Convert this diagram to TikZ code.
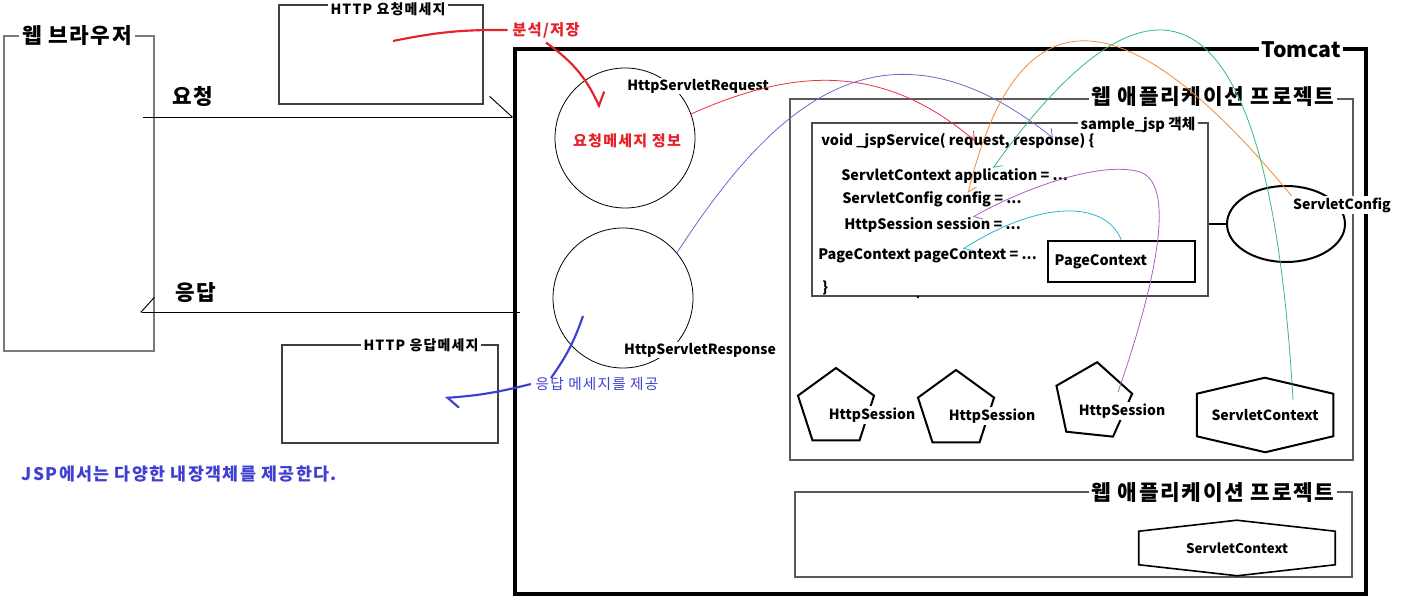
\documentclass[tikz,border=0pt]{standalone}
\usepackage{fontspec}
\setmainfont{Noto Sans CJK KR}
\newfontfamily\kr{Noto Sans CJK KR}[LetterSpace=8]
\usetikzlibrary{arrows.meta,positioning,shapes.geometric,fit}
\definecolor{lnGray}{HTML}{7A7A7A}
\definecolor{penRed}{HTML}{E8202A}
\definecolor{penBlue}{HTML}{3F3FD2}
\definecolor{cvRed}{HTML}{F0303C}
\definecolor{cvBlue}{HTML}{6A6AC8}
\definecolor{cvOrange}{HTML}{F08A3C}
\definecolor{cvGreen}{HTML}{3CB878}
\definecolor{cvPurple}{HTML}{A860C0}
\definecolor{cvCyan}{HTML}{28B4CC}
\newcommand{\fs}[1]{\fontsize{#1}{#1}\selectfont}

\begin{document}
\begin{tikzpicture}[
  x=0.75pt, y=-0.75pt,
  frame/.style={draw=#1, line width=0.8pt, inner sep=0pt},
  frame/.default=lnGray,
  ttl/.style={fill=white, font=\kr\bfseries\fs{16}, inner sep=2pt},
  sttl/.style={fill=white, font=\kr\bfseries\fs{10.5}, inner sep=2pt},
  lbl/.style={fill=white, font=\bfseries\fs{10.5}, inner sep=1pt},
  code/.style={anchor=west, font=\bfseries\fs{10.8}, inner sep=0pt},
  shp/.style={draw, line width=1.5pt},
  wire/.style={line width=0.7pt},
  crv/.style={draw=#1, line width=0.6pt, -{Straight Barb[harpoon,length=5pt,width=10pt]}},
  pen/.style={draw=#1, line width=1.6pt, -{Straight Barb[harpoon,length=8pt,width=16pt]}},
]
\useasboundingbox (0,0) rectangle (1402,605);

% browser side
\node[frame, fit={(4,36)(154,351)}] (brw) {};
\node[ttl] (brwT) at (77,36) {웹 브라우저};
\node[font=\kr\bfseries\fs{16}] (reqL) at (193,97) {요청};
\node[font=\kr\bfseries\fs{16}] (resL) at (196,293) {응답};

\node[frame=black!75, fit={(279,5)(483,104)}] (reqBox) {};
\node[sttl, inner ysep=1pt] (reqBoxT) at (388,9) {HTTP 요청메세지};
\node[frame=black!75, fit={(282,345)(498,443)}] (resBox) {};
\node[sttl] (resBoxT) at (421,345) {HTTP 응답메세지};

% Tomcat
\node[frame=black, line width=2.4pt, fit={(515,49)(1366,594)}] (tom) {};
\node[ttl, font=\bfseries\fs{16}] (tomT) at (1301,50) {Tomcat};

\coordinate (reqS) at (143,117);
\draw[wire, -{Straight Barb[harpoon,length=17pt,width=31pt]}] (reqS) -- (reqS -| tom.west);
\coordinate (resS) at (520,312);
\coordinate (resE) at (140,312);
\draw[wire, -{Straight Barb[harpoon,swap,length=10pt,width=22pt]}] (resS) -- (resE);

\node[circle, draw, line width=0.6pt, minimum size=105pt] (reqC) at (625,138) {};
\node[circle, draw, line width=0.6pt, minimum size=105pt] (resC) at (623,298) {};
\node[lbl] (reqCL) at (698,86) {HttpServletRequest};
\node[lbl] (resCL) at (700,350) {HttpServletResponse};
\node[text=penRed, font=\kr\bfseries\fs{11.3}] (reqInfo) at (627,141) {요청메세지 정보};

% hand notes
\node[text=penRed, font=\kr\bfseries\fs{11.5}] (anl) at (546,30) {분석/저장};
\coordinate (anlS) at (393,41);
\coordinate (anlT) at (600,108);
\draw[penRed, line width=1.6pt] (anlS) to[bend left=6] (anl.west);
\draw[pen=penRed] (anl.south) to[bend left=15] (anlT);

\node[text=penBlue, font=\kr\fs{11}] (msg) at (597,384) {응답 메세지를 제공};
\coordinate (msgT) at (445,398);
\draw[penBlue, line width=1.6pt] (583,316) to[bend left=8] (551,378);
\draw[pen=penBlue] (msg.west) to[bend left=5] (msgT);

\node[text=penBlue, font=\kr\bfseries\fs{13}, anchor=west] (note) at (17,474) {JSP에서는 다양한 내장객체를 제공한다.};

% web application project
\node[frame=black!65, fit={(790,99)(1353,460)}] (prj) {};
\node[ttl] (prjT) at (1213,97) {웹 애플리케이션 프로젝트};
\node[frame=black!70, fit={(812,123)(1208,296)}] (jsp) {};
\node[sttl, font=\bfseries\fs{11}] (jspT) at (1138,125) {sample\_jsp 객체};

\node[code] (c0) at (821,141) {void \_jspService( request, response) \{};
\node[code] (c1) at (841,176) {ServletContext application = ...};
\node[code] (c2) at (842,199) {ServletConfig config = ...};
\node[code] (c3) at (844,225) {HttpSession session = ...};
\node[code] (c4) at (818,256) {PageContext pageContext = ...};
\node[code] (c5) at (822,288) {\}};
\fill (918,297) circle (1pt);

\node[shp, anchor=north west, minimum width=110pt, minimum height=30.75pt, inner xsep=5pt,
  text width=100pt, align=left, font=\bfseries\fs{10.8}] (pc) at (1047,240) {PageContext};

\node[ellipse, shp, minimum width=88.5pt, minimum height=57pt] (cfgE) at (1286,224) {};
\draw[line width=1.5pt] (cfgE.west) -- (cfgE.west -| jsp.east);

\node[regular polygon, regular polygon sides=5, shp, minimum size=60pt] (hs1) at (836,408) {};
\node[regular polygon, regular polygon sides=5, shp, minimum size=60pt] (hs2) at (956,410) {};
\node[regular polygon, regular polygon sides=5, shp, minimum size=60pt, rotate=-6] (hs3) at (1093,402) {};
\node[lbl] (hs1L) at (872,415) {HttpSession};
\node[lbl] (hs2L) at (992,416) {HttpSession};
\node[lbl] (hs3L) at (1122,411) {HttpSession};

\node[minimum width=102pt, minimum height=31.5pt, font=\bfseries\fs{10.5}] (sc) at (1265,415) {ServletContext};
\draw[shp] (sc.north west) -- ++(68,-16) -- (sc.north east) -- (sc.south east) -- ++(-68,16) -- (sc.south west) -- cycle;

\node[frame=black!65, fit={(795,492)(1352,577)}] (prj2) {};
\node[ttl] (prj2T) at (1213,493) {웹 애플리케이션 프로젝트};
\node[minimum width=147pt, minimum height=24.75pt, font=\bfseries\fs{10}] (sc2) at (1237,548) {ServletContext};
\draw[line width=1.2pt] (sc2.north west) -- ++(98,-11) -- (sc2.north east) -- (sc2.south east) -- ++(-98,11) -- (sc2.south west) -- cycle;

\node[lbl] (cfgL) at (1342,205) {ServletConfig};

% object links
\coordinate (wReq) at (975,141);
\coordinate (wResp) at (1053,138);
\coordinate (wApp) at (993,168);
\coordinate (wCfg) at (968,193);
\coordinate (wSes) at (973,217);
\coordinate (wPc) at (963,249);
\coordinate (gS) at (1293,400);
\coordinate (pS) at (1118,392);
\draw[crv=cvRed] (reqC.20) .. controls (790,70) and (880,60) .. (wReq);
\draw[crv=cvBlue] (resC.40) .. controls (770,110) and (880,0) .. (wResp);
\draw[crv=cvOrange] (cfgL.north west) .. controls (1130,0) and (1020,-20) .. (wCfg);
\draw[crv=cvGreen] (gS) .. controls (1265,-90) and (1120,-10) .. (wApp);
\draw[crv=cvPurple] (pS) .. controls (1150,300) and (1180,185) .. (1140,172) .. controls (1100,160) and (1020,190) .. (wSes);
\draw[crv=cvCyan] (pc.north) .. controls (1105,200) and (1040,200) .. (wPc);
\end{tikzpicture}
\end{document}
